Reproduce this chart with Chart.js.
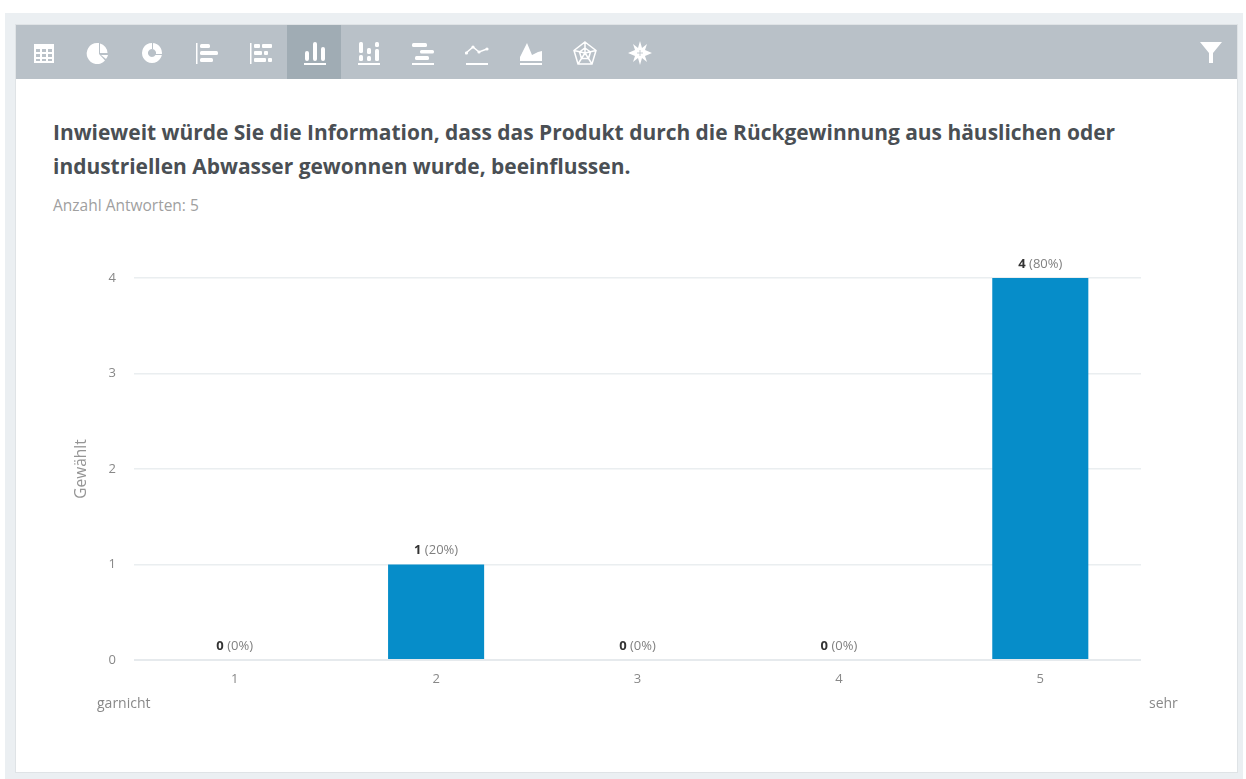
<!DOCTYPE html>
<html lang="de"><head><meta charset="utf-8">
<script src="https://cdn.jsdelivr.net/npm/chart.js@4"></script>
<style>
html,body{margin:0;padding:0;background:#fff;width:1246px;height:779px;overflow:hidden;font-family:"Open Sans",sans-serif}
#outer{position:absolute;left:5px;top:13px;width:1238px;height:766px;background:#ebeff2}
#card{position:absolute;left:16px;top:25px;width:1221px;height:747px;background:#fff;box-shadow:0 0 0 1px #dfe3e6}
#bar{position:absolute;left:16px;top:25px;width:1221px;height:54px;background:#b9c1c8}
#active{position:absolute;left:271px;top:0;width:54px;height:54px;background:#a0acb4}
.ic{position:absolute;top:16px;width:24px;height:24px;fill:#fff;stroke:none}
h1{position:absolute;left:53px;top:116px;margin:0;width:1170px;font-size:20.95px;line-height:33.5px;font-weight:700;color:#4a4f54}
#n{position:absolute;left:53px;top:196px;font-size:15.5px;line-height:18px;color:#a0a0a0;white-space:nowrap}
canvas{position:absolute;left:0;top:0}
.end{position:absolute;top:694px;font-size:14px;line-height:18px;color:#888}
</style></head><body>
<div id="outer"></div><div id="card"></div>
<div id="bar"><div id="active"></div>
<svg class="ic" style="left:16px" viewBox="0 0 24 24"><path d="M2 3h20v19H2z M4 8v3h4V8z M10 8v3h4V8z M16 8v3h4V8z M4 13v3h4v-3z M10 13v3h4v-3z M16 13v3h4v-3z M4 18v2h4v-2z M10 18v2h4v-2z M16 18v2h4v-2z" fill-rule="evenodd"/></svg>
<svg class="ic" style="left:70px" viewBox="0 0 24 24"><path d="M11 2a10.500 10.500 0 1 0 8 17.500L13 13V2z"/><path d="M14 2.500a10 10 0 0 1 7.500 9.500H14z M15 14h7a10 10 0 0 1-2 4z"/></svg>
<svg class="ic" style="left:124px" viewBox="0 0 24 24"><path d="M12 2a10 10 0 1 0 .01 0z M12 8a4 4 0 1 1-.01 0z" fill-rule="evenodd"/><path d="M12 8V2h1v6zM15 13h7v1h-7z" fill="#b9c1c8"/></svg>
<svg class="ic" style="left:178px" viewBox="0 0 24 24"><path d="M2 2h1.500v21H2z"/><rect x="6" y="3" width="10" height="4" rx="1.500"/><rect x="6" y="10" width="18" height="4" rx="1.500"/><rect x="6" y="17" width="13" height="4" rx="1.500"/></svg>
<svg class="ic" style="left:233px" viewBox="0 0 24 24"><path d="M1 2h1.500v21H1z"/><rect x="5" y="3" width="6" height="4" rx="1"/><rect x="13" y="3" width="10" height="4" rx="1"/><rect x="5" y="10" width="8" height="4" rx="1"/><rect x="15" y="10" width="4" height="4" rx="1"/><rect x="5" y="17" width="12" height="4" rx="1"/><rect x="19" y="17" width="4" height="4" rx="1"/></svg>
<svg class="ic" style="left:287px" viewBox="0 0 24 24"><rect x="1" y="22" width="22" height="2"/><rect x="2" y="10" width="4" height="10" rx="2"/><rect x="10" y="1" width="4" height="19" rx="2"/><rect x="18" y="6" width="4" height="14" rx="2"/></svg>
<svg class="ic" style="left:341px" viewBox="0 0 24 24"><rect x="1" y="22" width="22" height="2"/><rect x="2" y="1" width="4" height="11" rx="1.500"/><rect x="2" y="14" width="4" height="6" rx="1.500"/><rect x="10" y="7" width="4" height="6" rx="1.500"/><rect x="10" y="15" width="4" height="5" rx="1.500"/><rect x="18" y="1" width="4" height="5" rx="1.500"/><rect x="18" y="8" width="4" height="12" rx="1.500"/></svg>
<svg class="ic" style="left:395px" viewBox="0 0 24 24"><rect x="1" y="22" width="22" height="2"/><rect x="1" y="2" width="15" height="4" rx="1.500"/><rect x="9" y="9" width="14" height="3.500" rx="1.500"/><rect x="4" y="15" width="14" height="4" rx="1.500"/></svg>
<svg class="ic" style="left:449px" viewBox="0 0 24 24"><rect x="1" y="22" width="22" height="2"/><path d="M1 12l7-6 6 5 8-3" fill="none" stroke="#fff" stroke-width="1.500"/><circle cx="1.500" cy="12" r="1.600"/><circle cx="8" cy="6" r="1.600"/><circle cx="14" cy="11" r="1.600"/><circle cx="22" cy="8" r="1.600"/></svg>
<svg class="ic" style="left:503px" viewBox="0 0 24 24"><rect x="1" y="22" width="22" height="2"/><path d="M1 20V16L8 2l5 12 6-3 4-1v10z"/></svg>
<svg class="ic" style="left:557px" viewBox="0 0 24 24"><path d="M12 1L23 9.500 19 23H5L1 9.500z M12 7l5.500 4-2 6.500h-7l-2-6.500z M12 1v11M23 9.500L12 12M1 9.500L12 12M19 23L12 12M5 23L12 12" fill="none" stroke="#fff" stroke-width="1.500"/></svg>
<svg class="ic" style="left:612px" viewBox="0 0 24 24"><path d="M12 0l2 7 5-4-2 6 7 3-7 3 2 6-5-4-2 7-2-7-5 4 2-6-7-3 7-3-2-6 5 4z"/><path d="M12 9v6M9 12h6" stroke="#b9c1c8" stroke-width=".8" fill="none"/></svg>
<svg class="ic" style="left:1183px;top:15px" viewBox="0 0 24 24"><path d="M1 2h22l-9 11v10h-4V13z"/></svg>
</div>
<h1>Inwieweit würde Sie die Information, dass das Produkt durch die Rückgewinnung aus häuslichen oder<br>industriellen Abwasser gewonnen wurde, beeinflussen.</h1>
<div id="n">Anzahl Antworten: 5</div>
<canvas id="c" width="1246" height="779"></canvas>
<div class="end" style="left:97px">garnicht</div>
<div class="end" style="left:1149px">sehr</div>
<script>
const categories = ["1","2","3","4","5"];
const counts = [0,1,0,0,4];
const percents = ["0%","20%","0%","0%","80%"];
const axisTitle = "Gewählt";
const FONT = '"Open Sans",sans-serif';

const valueLabels = {
  id:'valueLabels',
  afterDatasetsDraw(chart){
    const {ctx} = chart, meta = chart.getDatasetMeta(0);
    ctx.save();
    ctx.textBaseline='middle';
    meta.data.forEach((el,i)=>{
      const a = String(counts[i]), b = ' ('+percents[i]+')', y = el.y-14;
      ctx.font='700 13px '+FONT; const wa = ctx.measureText(a).width;
      ctx.font='13px '+FONT; const wb = ctx.measureText(b).width;
      const x = el.x-(wa+wb)/2;
      ctx.textAlign='left';
      ctx.font='700 13px '+FONT; ctx.fillStyle='#333'; ctx.fillText(a,x,y);
      ctx.font='13px '+FONT; ctx.fillStyle='#808080'; ctx.fillText(b,x+wa,y);
    });
    ctx.restore();
  }
};

new Chart(document.getElementById('c'),{
  type:'bar',
  data:{labels:categories,datasets:[{data:counts,backgroundColor:'#068dc9',borderWidth:0,barPercentage:0.477,categoryPercentage:1}]},
  plugins:[valueLabels],
  options:{
    responsive:false,animation:false,
    layout:{padding:{left:72,top:278,right:105,bottom:0}},
    plugins:{legend:{display:false},tooltip:{enabled:false},title:{display:false}},
    scales:{
      x:{
        afterFit(s){s.height=119;},
        grid:{display:false},border:{display:false},
        ticks:{color:'#888',font:{family:FONT,size:13},padding:3,maxRotation:0}
      },
      y:{
        min:0,max:4,
        afterFit(s){s.width=62;},
        grid:{color:c=>c.tick.value===0?'#e6eaed':'#eaeef0',lineWidth:c=>c.tick.value===0?2:1.5,drawTicks:false},border:{display:false},
        ticks:{stepSize:1,color:'#888',font:{family:FONT,size:13},padding:18},
        title:{display:true,text:axisTitle,color:'#959595',font:{family:FONT,size:15.5},padding:{top:0,bottom:0}}
      }
    }
  }
});
</script>
</body></html>
